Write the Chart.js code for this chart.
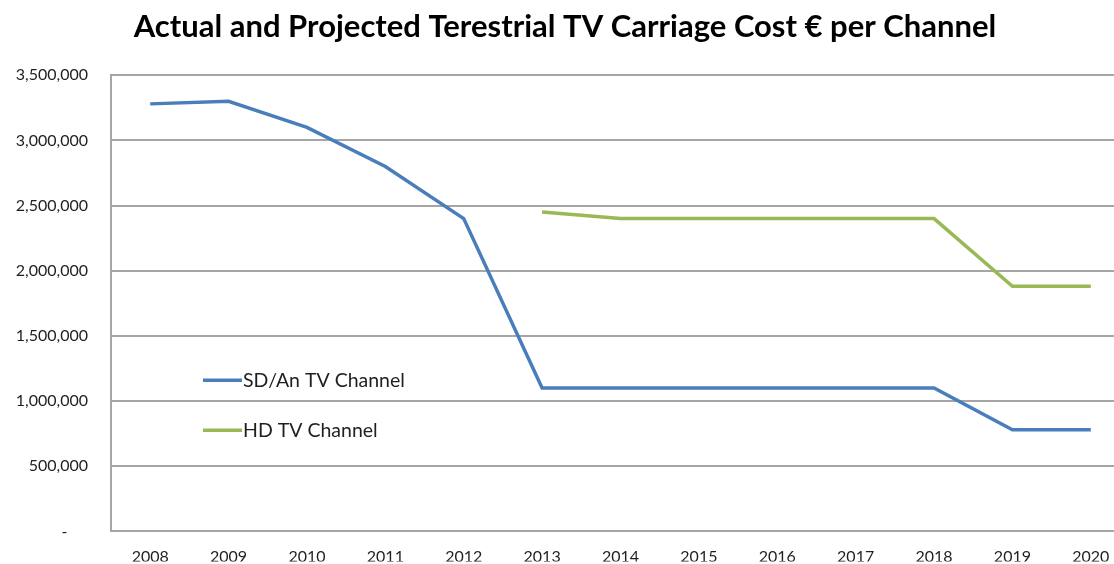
<!DOCTYPE html>
<html>
<head>
<meta charset="utf-8">
<script src="https://cdn.jsdelivr.net/npm/chart.js@4"></script>
<style>
  html, body { margin: 0; padding: 0; background: #fff; overflow: hidden; }
  #wrap { width: 1130px; height: 564px; }
</style>
</head>
<body>
<div id="wrap"><canvas id="costChart"></canvas></div>
<script>
const years = ['2008', '2009', '2010', '2011', '2012', '2013', '2014', '2015', '2016', '2017', '2018', '2019', '2020'];
const sdCost = [3280000, 3300000, 3100000, 2800000, 2400000, 1100000, 1100000, 1100000, 1100000, 1100000, 1100000, 780000, 780000];
const hdCost = [null, null, null, null, null, 2450000, 2400000, 2400000, 2400000, 2400000, 2400000, 1880000, 1880000];
const yTicks = [0, 500000, 1000000, 1500000, 2000000, 2500000, 3000000, 3500000];

const FONT = 'Lato, "Open Sans", sans-serif';

// legend sits inside the plot, like the original Excel chart
const insideLegend = {
    id: 'insideLegend',
    afterDatasetsDraw(chart) {
        const ctx = chart.ctx;
        const area = chart.chartArea;
        ctx.save();
        ctx.font = '19.5px ' + FONT;
        ctx.textBaseline = 'middle';
        chart.data.datasets.forEach((ds, i) => {
            const y = area.top + 305 + i * 50;
            const x = area.left + 92;
            ctx.strokeStyle = ds.borderColor;
            ctx.lineWidth = 3.5;
            ctx.beginPath();
            ctx.moveTo(x, y);
            ctx.lineTo(x + 39, y);
            ctx.stroke();
            ctx.fillStyle = '#1f1f1f';
            ctx.fillText(ds.label, x + 40, y + 1);
        });
        ctx.restore();
    }
};

new Chart(document.getElementById('costChart'), {
    type: 'line',
    data: {
        labels: years,
        datasets: [{
            label: 'SD/An TV Channel',
            data: sdCost,
            borderColor: '#4a7ebb',
            borderWidth: 3.5,
            pointRadius: 0,
            tension: 0
        }, {
            label: 'HD TV Channel',
            data: hdCost,
            borderColor: '#98b954',
            borderWidth: 3.5,
            pointRadius: 0,
            tension: 0
        }]
    },
    options: {
        responsive: true,
        maintainAspectRatio: false,
        animation: false,
        layout: { padding: { left: 0, right: 0, top: 0, bottom: 0 } },
        plugins: {
            legend: { display: false },
            tooltip: { enabled: false },
            title: {
                display: true,
                text: 'Actual and Projected Terestrial TV Carriage Cost € per Channel',
                color: '#000',
                font: { family: FONT, size: 31, weight: 'bold' },
                padding: { top: 8, bottom: 30 }
            }
        },
        scales: {
            x: {
                offset: true,
                grid: { display: false, drawTicks: false },
                border: { display: true, color: '#a6a6a6', width: 2 },
                ticks: {
                    color: '#1f1f1f',
                    font: { family: FONT, size: 16 },
                    padding: 16,
                    maxRotation: 0
                },
                afterFit(scale) { scale.height = 30; }
            },
            y: {
                min: 0,
                max: 3500000,
                afterBuildTicks(scale) { scale.ticks = yTicks.map(v => ({ value: v })); },
                grid: { color: '#a6a6a6', lineWidth: 2, drawTicks: false },
                border: { display: true, color: '#a6a6a6', width: 2 },
                ticks: {
                    color: '#1f1f1f',
                    font: { family: FONT, size: 16 },
                    padding: 23,
                    callback: v => v === 0 ? '-     ' : v.toLocaleString('en-US')
                },
                afterFit(scale) { scale.width = 111; }
            }
        }
    },
    plugins: [insideLegend]
});
</script>
</body>
</html>
